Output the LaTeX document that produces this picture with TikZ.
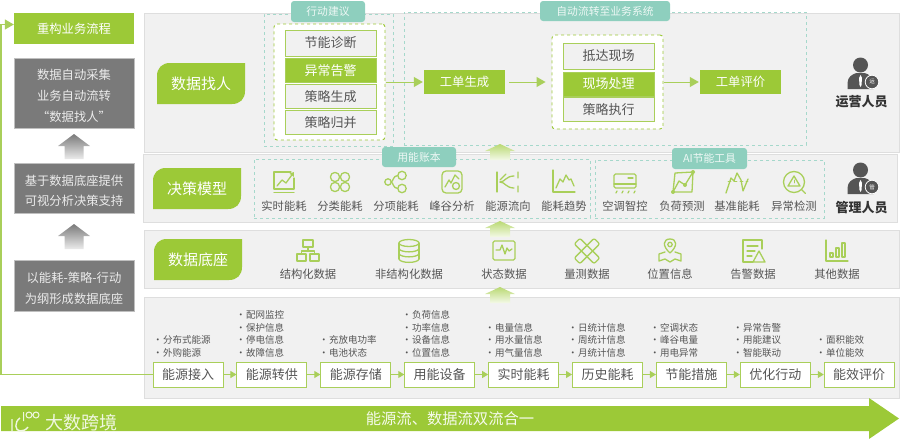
\documentclass[tikz,border=0pt]{standalone}
\usepackage{fontspec}
\setmainfont{Noto Sans CJK SC}
\usetikzlibrary{arrows.meta,positioning,shapes.geometric,calc}
\definecolor{EnGreen}{HTML}{9CC937}
\definecolor{EnLine}{HTML}{A9CF5A}
\definecolor{EnTeal}{HTML}{8ECFBE}
\definecolor{EnDash}{HTML}{A5D8CB}
\definecolor{EnPanel}{HTML}{F1F1F1}
\definecolor{EnGray}{HTML}{7A7A7A}
\definecolor{EnDark}{HTML}{555555}
\newcommand{\fs}[2]{\fontsize{#1}{#2}\selectfont}
\newcommand{\itm}{\makebox[10pt][l]{·}}
\newcommand{\dropline}{\rule{0pt}{16pt}}
\tikzset{
  panel/.style={draw=black!13,fill=EnPanel,line width=0.8pt,inner sep=0pt},
  graybox/.style={draw=black!25,fill=EnGray,text=white!92!black,align=center,inner sep=0pt,minimum width=120pt,font=\fs{12.3}{20.6}},
  greenbox/.style={fill=EnGreen,text=white,align=center,inner sep=0pt,minimum width=81pt,minimum height=24pt,font=\fs{12.3}{15}},
  tabtext/.style={text=white,inner sep=0pt,font=\fs{15}{18}},
  tealtab/.style={fill=EnTeal,rounded corners=3pt,text=white!85!EnTeal,inner sep=0pt,font=\fs{10.8}{13}},
  groupbox/.style={draw=EnDash,dashed,line width=0.8pt,inner sep=0pt},
  innerbox/.style={draw=EnGreen,fill=white,dashed,rounded corners=3pt,line width=0.9pt,inner sep=0pt,minimum width=111pt},
  stepbox/.style={draw=EnLine,fill=EnPanel,line width=0.9pt,text=EnDark,inner sep=0pt,minimum width=91pt,minimum height=24pt,font=\fs{13}{15}},
  stepon/.style={stepbox,fill=EnGreen,text=white},
  flowbox/.style={draw=EnLine,fill=white,line width=0.9pt,text=EnDark,inner sep=0pt,minimum width=70pt,minimum height=25pt,font=\fs{13}{15}},
  flowarrow/.style={-{Triangle[length=6pt,width=7pt]},line width=1pt,draw=EnLine},
  mainarrow/.style={-{Triangle[length=9pt,width=10pt]},line width=1pt,draw=EnLine,shorten <=1pt,shorten >=1pt},
  iconlabel/.style={text=EnDark,inner sep=0pt,font=\fs{11.3}{13}},
  infolist/.style={anchor=south west,align=left,text=EnDark,inner sep=0pt,font=\fs{9.5}{12.7}},
  rolelabel/.style={text=black!80,inner sep=0pt,font=\fs{13}{15}\bfseries},
  icon/.style={draw=EnLine,line width=1.3pt,line join=round,line cap=round},
  tabshape/.pic={\fill[EnGreen] (0,41)--(0,13) .. controls (0,5) and (5,0) .. (13,0)--(88,0)--(88,28) .. controls (88,36) and (83,41) .. (75,41)--cycle;},
  grayup/.pic={\shade[top color=EnGray,bottom color=black!8] (0,0)--(16,12)--(9.5,12)--(9.5,25)--(-9.5,25)--(-9.5,12)--(-16,12)--cycle;},
  greenup/.pic={\shade[top color=EnGreen!70,bottom color=EnGreen!12] (0,0)--(15,7)--(10,7)--(10,16)--(-10,16)--(-10,7)--(-15,7)--cycle;},
  person/.pic={
    \fill[EnDark] (0,0) circle (7.5);
    \fill[EnDark] (-13,24)--(-13,18) .. controls (-13,12) and (-8,9) .. (-4,8)--(4,8) .. controls (8,9) and (13,12) .. (13,18)--(13,24)--cycle;
    \fill[white] (0,10)--(1.5,13)--(1,20)--(0,22)--(-1,20)--(-1.5,13)--cycle;
    \fill[EnDark,draw=white,line width=0.8pt] (11.5,17) circle (6.8);
  },
  realtimeicon/.pic={
    \draw[icon] (7,-10)--(-10,-10)--(-10,7)--(10,7)--(10,-4);
    \draw[icon] (-10,10.5)--(10,10.5);
    \draw[icon,-{Triangle[length=4pt,width=5pt]}] (-7,4)--(-2,-2)--(2,1)--(10,-10);
  },
  sorticon/.pic={\foreach \px/\py in {-5/-5,5/-5,-5/5,5/5}{\draw[icon] (\px,\py) circle (4.6);}},
  itemicon/.pic={
    \draw[icon] (-8,0) circle (3.2) (6,-6.5) circle (4.2) (6,6.5) circle (4.2);
    \draw[icon] (1.8,-6.5) .. controls (-3,-6.5) and (-3,0) .. (-4.8,0) .. controls (-3,0) and (-3,6.5) .. (1.8,6.5);
  },
  peakicon/.pic={
    \draw[icon,rounded corners=4pt] (-10,-11) rectangle (10,11);
    \draw[icon] (-7,5)--(-3,-2)--(-1,1)--(3,-7)--(7,-3);
    \draw[icon] (4,4) circle (3.5);
  },
  streamicon/.pic={
    \draw[icon] (-11,-10)--(-11,10);
    \draw[icon] (-8,0) .. controls (-3,0) and (-2,-6) .. (6,-6);
    \draw[icon] (-8,0) .. controls (-3,0) and (-2,6) .. (6,6);
    \draw[icon] (10,-10)--(10,-4) (10,4)--(10,10) (-8,-2)--(-2,-8);
  },
  trendicon/.pic={
    \draw[icon] (-11,-12)--(-11,10)--(11,10);
    \draw[icon] (-8,6)--(-4,-3)--(-1,0)--(2,-7)--(5,-2)--(7,-3)--(10,4);
  },
  acicon/.pic={
    \draw[icon,rounded corners=1.5pt] (-11,-8) rectangle (11,6);
    \draw[icon] (-11,2)--(11,2) (3,-4)--(8,-4);
    \draw[icon] (-8,9)--(-9,11) (-2,9)--(-3,11) (4,9)--(3,11) (10,9)--(9,11);
  },
  loadicon/.pic={
    \draw[icon] (-9,10)--(-7,-9)--(11,-10)--(10,10)--cycle;
    \draw[icon] (-9,10)--(-3,-1)--(3,3)--(11,-10);
    \fill[EnLine] (-9,10) circle (2) (3,3) circle (2) (11,-10) circle (2);
  },
  baseicon/.pic={
    \draw[icon] (-11,11)--(-6,-4)--(-3,-1)--(0,-9)--(4,-2)--(6,9)--(11,-3);
    \draw[icon,dashed,line width=0.9pt] (-9,-1)--(11,-1);
  },
  detecticon/.pic={
    \draw[icon] (0,0) circle (10.5);
    \draw[icon] (7.5,7.5)--(11.5,11.5);
    \draw[icon] (0,-6)--(6,4)--(-6,4)--cycle;
    \draw[icon,line width=0.9pt] (0,-2)--(0,1);
  },
  structicon/.pic={
    \draw[icon] (-5,-11) rectangle (5,-4) (-11,3) rectangle (-2,10) (2,3) rectangle (11,10);
    \draw[icon] (0,-4)--(0,0) (-6.5,3)--(-6.5,0)--(6.5,0)--(6.5,3);
  },
  dbicon/.pic={
    \draw[icon] (0,-8) ellipse (10 and 3.5);
    \draw[icon] (-10,-8)--(-10,8) (10,-8)--(10,8);
    \draw[icon] (-10,-2.5) .. controls (-9,2) and (9,2) .. (10,-2.5);
    \draw[icon] (-10,2.5) .. controls (-9,7) and (9,7) .. (10,2.5);
    \draw[icon] (-10,8) .. controls (-9,12.5) and (9,12.5) .. (10,8);
  },
  statusicon/.pic={
    \draw[icon,rounded corners=1.5pt] (-11,-10) rectangle (11,9);
    \draw[icon] (-8,-1)--(-4,-1)--(-2,-6)--(1,3)--(3,-3)--(5,0)--(8,-2);
  },
  measureicon/.pic={
    \draw[icon,rotate=45,rounded corners=2pt] (-14,-4) rectangle (14,4);
    \draw[icon,rotate=-45,rounded corners=2pt] (-14,-4) rectangle (14,4);
  },
  locationicon/.pic={
    \draw[icon] (0,2) .. controls (-8,-5) and (-7,-12) .. (0,-12) .. controls (7,-12) and (8,-5) .. (0,2);
    \draw[icon] (0,-6.5) circle (2.2);
    \draw[icon] (-5,1)--(-11,3)--(-11,10)--(-5,8)--(0,11)--(5,8)--(11,10)--(11,3)--(5,1);
  },
  alarmicon/.pic={
    \draw[icon] (9,-2)--(9,-11)--(-10,-11)--(-10,11)--(0,11);
    \draw[icon] (-6,-5)--(5,-5) (-6,0)--(2,0) (-6,5)--(-1,5);
    \draw[icon] (6,0)--(12,11)--(0,11)--cycle;
  },
  othericon/.pic={
    \draw[icon] (-11,-11)--(-11,10)--(11,10);
    \draw[icon] (-7,2) rectangle (-4,6) (-1,-3) rectangle (2,6) (5,-8) rectangle (8,6);
  }
}
\begin{document}
\begin{tikzpicture}[x=1pt,y=-1pt]
\useasboundingbox (0,0) rectangle (900,439);
% left column
\node[greenbox,minimum width=120pt,minimum height=31pt] (rebuild) at (74,28.5) {重构业务流程};
\node[graybox,minimum height=70pt] (auto) at (74,93) {\dropline 数据自动采集\\业务自动流转\\“数据找人”};
\node[graybox,minimum height=50pt] (visual) at (74,188) {\dropline 基于数据底座提供\\可视分析决策支持};
\node[graybox,minimum height=51pt] (base) at (74,285.5) {\dropline 以能耗-策略-行动\\为纲形成数据底座};
\pic at (74,134) {grayup};
\pic at (74,224) {grayup};

% panels
\node[panel,minimum width=755pt,minimum height=139pt] (findpanel) at (521.5,82.5) {};
\node[panel,minimum width=754pt,minimum height=68pt] (modelpanel) at (520,188) {};
\node[panel,minimum width=755pt,minimum height=58pt] (basepanel) at (521.5,259) {};
\node[panel,minimum width=755pt,minimum height=101pt] (flowpanel) at (521.5,347.5) {};

% side tabs
\pic at (157,63) {tabshape};
\node[tabtext] (findtab) at (201,83.5) {数据找人};
\pic at (153,168) {tabshape};
\node[tabtext] (modeltab) at (197,188.5) {决策模型};
\pic at (154,239) {tabshape};
\node[tabtext] (basetab) at (198,259.5) {数据底座};

% top row
\node[groupbox,minimum width=129pt,minimum height=132pt] (advice) at (328.5,80) {};
\node[tealtab,minimum width=74pt,minimum height=21pt] (advicetab) at (328,11.5) {行动建议};
\node[innerbox,minimum height=116pt] (advicein) at (329.5,82) {};
\node[stepbox,minimum height=26pt] (diag) at (330.5,43) {节能诊断};
\node[stepon] (alarm) at (330.5,70.5) {异常告警};
\node[stepbox] (policy) at (330.5,96.5) {策略生成};
\node[stepbox] (merge) at (330.5,122.5) {策略归并};
\node[groupbox,minimum width=402pt,minimum height=133pt] (autoflow) at (605,78.5) {};
\node[tealtab,minimum width=130pt,minimum height=20pt] (autotab) at (605,11) {自动流转至业务系统};
\node[greenbox] (ticket) at (464.5,82) {工单生成};
\node[innerbox,minimum height=94pt] (sitein) at (607.5,82) {};
\node[stepbox,minimum height=26pt] (arrive) at (608.5,56) {抵达现场};
\node[stepon] (handle) at (608.5,84) {现场处理};
\node[stepbox] (execute) at (608.5,109.5) {策略执行};
\node[greenbox] (review) at (740.5,82) {工单评价};
\draw[mainarrow] (advicein.east)--(ticket.west);
\draw[mainarrow,shorten <=4pt,shorten >=6pt] (ticket.east)--(sitein.west);
\draw[mainarrow] (sitein.east)--(review.west);

% roles
\pic at (860.5,65) {person};
\node[text=white,inner sep=0pt,font=\fs{5.5}{6}] (opsbadge) at (872,82) {运};
\node[rolelabel] (ops) at (861.5,102) {运营人员};
\pic at (860.5,170) {person};
\node[text=white,inner sep=0pt,font=\fs{5.5}{6}] (mgrbadge) at (872,187) {管};
\node[rolelabel] (mgr) at (861.5,208) {管理人员};

% decision row
\node[groupbox,minimum width=336pt,minimum height=59pt] (ledger) at (422,188.5) {};
\node[tealtab,minimum width=74pt,minimum height=20pt] (ledgertab) at (419,157) {用能账本};
\node[groupbox,minimum width=229pt,minimum height=58pt] (aitool) at (709.5,189) {};
\node[tealtab,minimum width=75pt,minimum height=21pt] (aitab) at (709.5,158.5) {AI节能工具};
\pic at (500,144) {greenup};
\pic at (284,182) {realtimeicon};
\node[iconlabel] (realtime) at (284,206) {实时能耗};
\pic at (340,182) {sorticon};
\node[iconlabel] (sortuse) at (340,206) {分类能耗};
\pic at (396,182) {itemicon};
\node[iconlabel] (itemuse) at (396,206) {分项能耗};
\pic at (452,182) {peakicon};
\node[iconlabel] (peak) at (452,206) {峰谷分析};
\pic at (508,182) {streamicon};
\node[iconlabel] (stream) at (508,206) {能源流向};
\pic at (564,182) {trendicon};
\node[iconlabel] (trend) at (564,206) {能耗趋势};
\pic at (625,182) {acicon};
\node[iconlabel] (accontrol) at (625,206) {空调智控};
\pic at (682,182) {loadicon};
\node[iconlabel] (loadcast) at (682,206) {负荷预测};
\pic at (737,182) {baseicon};
\node[iconlabel] (baseline) at (737,206) {基准能耗};
\pic at (794,182) {detecticon};
\node[iconlabel] (detect) at (794,206) {异常检测};

% data row
\pic at (500,221) {greenup};
\pic at (308,251) {structicon};
\node[iconlabel] (struct) at (308,274.5) {结构化数据};
\pic at (409,251) {dbicon};
\node[iconlabel] (unstruct) at (409,274.5) {非结构化数据};
\pic at (504,251) {statusicon};
\node[iconlabel] (status) at (504,274.5) {状态数据};
\pic at (587,251) {measureicon};
\node[iconlabel] (measure) at (587,274.5) {量测数据};
\pic at (670,251) {locationicon};
\node[iconlabel] (location) at (670,274.5) {位置信息};
\pic at (753,251) {alarmicon};
\node[iconlabel] (warning) at (753,274.5) {告警数据};
\pic at (837,251) {othericon};
\node[iconlabel] (other) at (837,274.5) {其他数据};
\pic at (500,287) {greenup};

% flow row
\node[flowbox] (access) at (188,374.5) {能源接入};
\node[flowbox,right=13pt of access] (supply) {能源转供};
\node[flowbox,right=13pt of supply] (storage) {能源存储};
\node[flowbox,right=13pt of storage] (device) {用能设备};
\node[flowbox,right=13pt of device] (meter) {实时能耗};
\node[flowbox,right=13pt of meter] (history) {历史能耗};
\node[flowbox,right=13pt of history] (saving) {节能措施};
\node[flowbox,right=13pt of saving] (optimize) {优化行动};
\node[flowbox,right=13pt of optimize] (assess) {能效评价};
\draw[flowarrow] (access.east)--(supply.west);
\draw[flowarrow] (supply.east)--(storage.west);
\draw[flowarrow] (storage.east)--(device.west);
\draw[flowarrow] (device.east)--(meter.west);
\draw[flowarrow] (meter.east)--(history.west);
\draw[flowarrow] (history.east)--(saving.west);
\draw[flowarrow] (saving.east)--(optimize.west);
\draw[flowarrow] (optimize.east)--(assess.west);
\node[infolist] (list1) at (153,357.5) {\itm 分布式能源\\\itm 外购能源};
\node[infolist] (list2) at (236,357.5) {\itm 配网监控\\\itm 保护信息\\\itm 停电信息\\\itm 故障信息};
\node[infolist] (list3) at (319,357.5) {\itm 充放电功率\\\itm 电池状态};
\node[infolist] (list4) at (402,357.5) {\itm 负荷信息\\\itm 功率信息\\\itm 设备信息\\\itm 位置信息};
\node[infolist] (list5) at (485,357.5) {\itm 电量信息\\\itm 用水量信息\\\itm 用气量信息};
\node[infolist] (list6) at (568,357.5) {\itm 日统计信息\\\itm 周统计信息\\\itm 月统计信息};
\node[infolist] (list7) at (650,357.5) {\itm 空调状态\\\itm 峰谷电量\\\itm 用电异常};
\node[infolist] (list8) at (733,357.5) {\itm 异常告警\\\itm 用能建议\\\itm 智能联动};
\node[infolist] (list9) at (816,357.5) {\itm 面积能效\\\itm 单位能效};

% feedback line
\coordinate (rail) at (1,200);
\draw[flowarrow,line width=1.4pt,-{Triangle[length=9pt,width=10pt]}] (access.west) -| (rail) |- ([yshift=4pt]rebuild.west);

% bottom bar
\fill[EnGreen] (1,406)--(869,406)--(869,398)--(899,418.5)--(869,439)--(869,431)--(1,431)--cycle;
\node[text=white!90!EnGreen,inner sep=0pt,font=\fs{15.3}{18}] (merged) at (450,418.5) {能源流、数据流双流合一};
\node[text=white!85!EnGreen,inner sep=0pt,font=\fs{18}{20}] (brand) at (81.5,423) {大数跨境};
\draw[white!85!EnGreen,line width=1.4pt] (12,419)--(12,431) (20,418) .. controls (14,422) and (15,431) .. (20,431) .. controls (23,431) and (26,430) .. (28,427);
\draw[white!85!EnGreen,line width=1pt] (23.5,412)--(23.5,421) (29,415) circle (3) (36,415) circle (3);
\end{tikzpicture}
\end{document}
